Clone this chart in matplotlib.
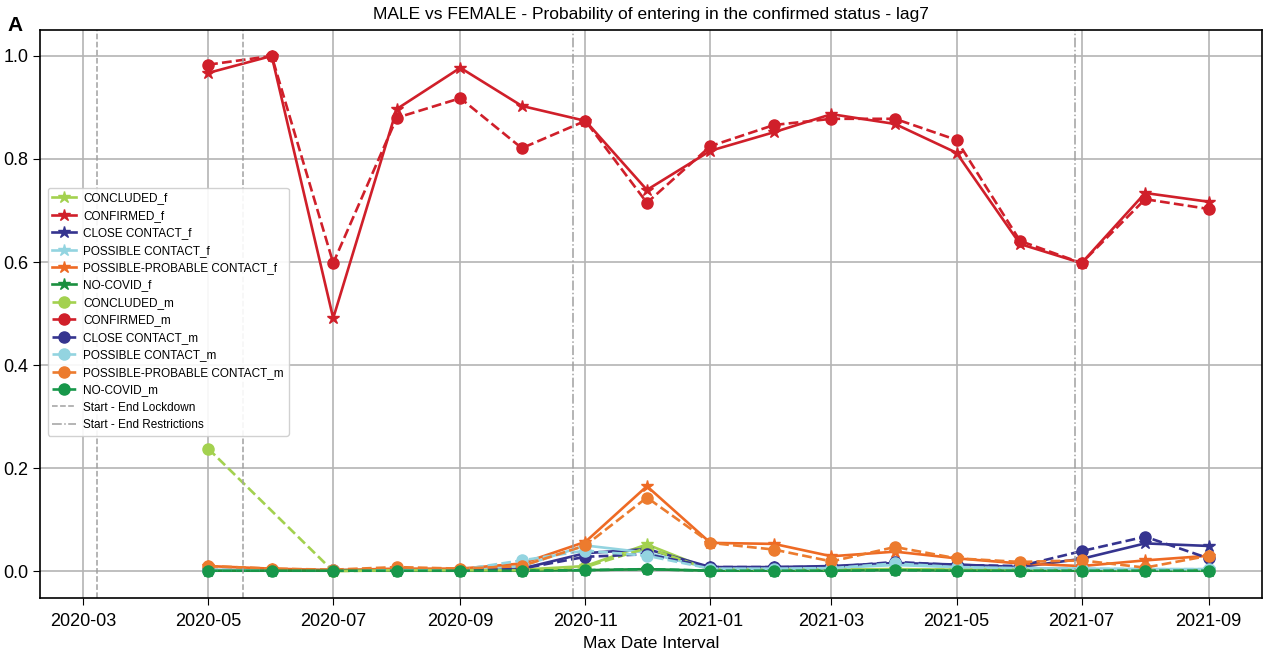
import numpy as np
import pandas as pd
import matplotlib
matplotlib.use("Agg")
import matplotlib.pyplot as plt
import matplotlib.dates as mdates

plt.rcParams['font.family'] = ['Liberation Sans', 'DejaVu Sans']

dates = pd.date_range("2020-05-01", "2021-09-01", freq="MS")

categories = ["CONCLUDED", "CONFIRMED", "CLOSE CONTACT", "POSSIBLE CONTACT",
              "POSSIBLE-PROBABLE CONTACT", "NO-COVID"]

# female series (solid, star)
concluded_f = [0.002, 0.002, 0.001, 0.002, 0.002, 0.003, 0.010, 0.052, 0.003, 0.003, 0.003, 0.004, 0.003, 0.003, 0.002, 0.002, 0.002]
confirmed_f = [0.967, 1.000, 0.491, 0.897, 0.977, 0.903, 0.874, 0.740, 0.816, 0.852, 0.887, 0.868, 0.812, 0.635, 0.598, 0.734, 0.717]
close_f     = [0.002, 0.002, 0.002, 0.002, 0.003, 0.005, 0.035, 0.043, 0.008, 0.008, 0.010, 0.016, 0.013, 0.008, 0.024, 0.054, 0.049]
possible_f  = [0.002, 0.002, 0.002, 0.002, 0.003, 0.010, 0.050, 0.036, 0.005, 0.005, 0.006, 0.012, 0.008, 0.006, 0.005, 0.004, 0.004]
pp_f        = [0.010, 0.005, 0.002, 0.005, 0.005, 0.015, 0.057, 0.165, 0.055, 0.053, 0.029, 0.038, 0.025, 0.015, 0.010, 0.021, 0.030]
nocovid_f   = [0.001, 0.001, 0.001, 0.001, 0.001, 0.001, 0.002, 0.004, 0.001, 0.001, 0.001, 0.002, 0.001, 0.001, 0.001, 0.001, 0.001]

# male series (dashed, circle); NaN = no observation
concluded_m = [0.238, np.nan, 0.000, 0.002, 0.002, 0.002, 0.008, 0.045, 0.003, 0.003, 0.003, 0.004, 0.003, 0.003, 0.002, 0.002, 0.002]
confirmed_m = [0.983, 1.000, 0.598, 0.880, 0.918, 0.821, 0.874, 0.715, 0.825, 0.866, 0.878, 0.878, 0.837, 0.641, 0.598, 0.722, 0.703]
close_m     = [0.002, 0.002, 0.002, 0.002, 0.002, 0.005, 0.028, 0.033, 0.008, 0.008, 0.008, 0.018, 0.012, 0.010, 0.039, 0.067, 0.025]
possible_m  = [0.002, 0.002, 0.002, 0.002, 0.003, 0.021, 0.040, 0.030, 0.005, 0.005, 0.006, 0.015, 0.008, 0.006, 0.005, 0.004, 0.004]
pp_m        = [0.010, 0.005, 0.003, 0.008, 0.005, 0.010, 0.050, 0.143, 0.055, 0.042, 0.019, 0.047, 0.025, 0.018, 0.021, 0.007, 0.030]
nocovid_m   = [0.001, 0.001, 0.001, 0.001, 0.001, 0.001, 0.002, 0.004, 0.001, 0.001, 0.001, 0.002, 0.001, 0.001, 0.001, 0.001, 0.001]

colors = ["#a3d14f", "#d01f2a", "#35348f", "#93d4e0", "#ee6a24", "#1b8f3f"]
colors_m = ["#a3d14f", "#d01f2a", "#35348f", "#93d4e0", "#ec7b2e", "#17974a"]

female = [concluded_f, confirmed_f, close_f, possible_f, pp_f, nocovid_f]
male = [concluded_m, confirmed_m, close_m, possible_m, pp_m, nocovid_m]

lockdown = pd.to_datetime(["2020-03-08", "2020-05-18"])
restrictions = pd.to_datetime(["2020-10-26", "2021-06-28"])

fig = plt.figure(figsize=(12.74, 6.56), dpi=100)
ax = fig.add_axes([0.0314, 0.0884, 0.9592, 0.8656])

for name, vals, c in zip(categories, female, colors):
    v = np.array(vals, dtype=float)
    m = ~np.isnan(v)
    ax.plot(dates[m], v[m], '-', marker='*', color=c, lw=1.9, ms=9, label=f"{name}_f")
for name, vals, c in zip(categories, male, colors_m):
    v = np.array(vals, dtype=float)
    m = ~np.isnan(v)
    ax.plot(dates[m], v[m], '--', marker='o', color=c, lw=1.9, ms=8, label=f"{name}_m")

for i, d in enumerate(lockdown):
    ax.axvline(d, color='#a0a0a0', ls='--', lw=1.1,
               label="Start - End Lockdown" if i == 0 else None)
for i, d in enumerate(restrictions):
    ax.axvline(d, color='#a0a0a0', ls='-.', lw=1.1,
               label="Start - End Restrictions" if i == 0 else None)

ax.set_xlim(pd.Timestamp("2020-02-09"), pd.Timestamp("2021-09-27"))
ax.set_ylim(-0.052, 1.05)
ax.xaxis.set_major_locator(mdates.MonthLocator(bymonth=[1, 3, 5, 7, 9, 11]))
ax.xaxis.set_major_formatter(mdates.DateFormatter("%Y-%m"))
ax.set_yticks([0.0, 0.2, 0.4, 0.6, 0.8, 1.0])
ax.grid(True, color='#b4b4b4', lw=1.2)
ax.set_axisbelow(True)
ax.tick_params(labelsize=13, length=5)
ax.tick_params(axis='x', pad=6)
for s in ax.spines.values():
    s.set_linewidth(1.2)

ax.set_title("MALE vs FEMALE - Probability of entering in the confirmed status - lag7", fontsize=12.5, pad=8)
ax.set_xlabel("Max Date Interval", fontsize=12.5, labelpad=4)
fig.text(0.006, 0.975, "A", fontsize=15, fontweight='bold', va='top', ha='left')

ax.legend(loc='upper left', bbox_to_anchor=(0.0015, 0.733), fontsize=8.5,
          labelspacing=0.46, handlelength=2.0, handletextpad=0.6,
          borderpad=0.4, framealpha=0.9)

fig.savefig("out.png", dpi=100)
